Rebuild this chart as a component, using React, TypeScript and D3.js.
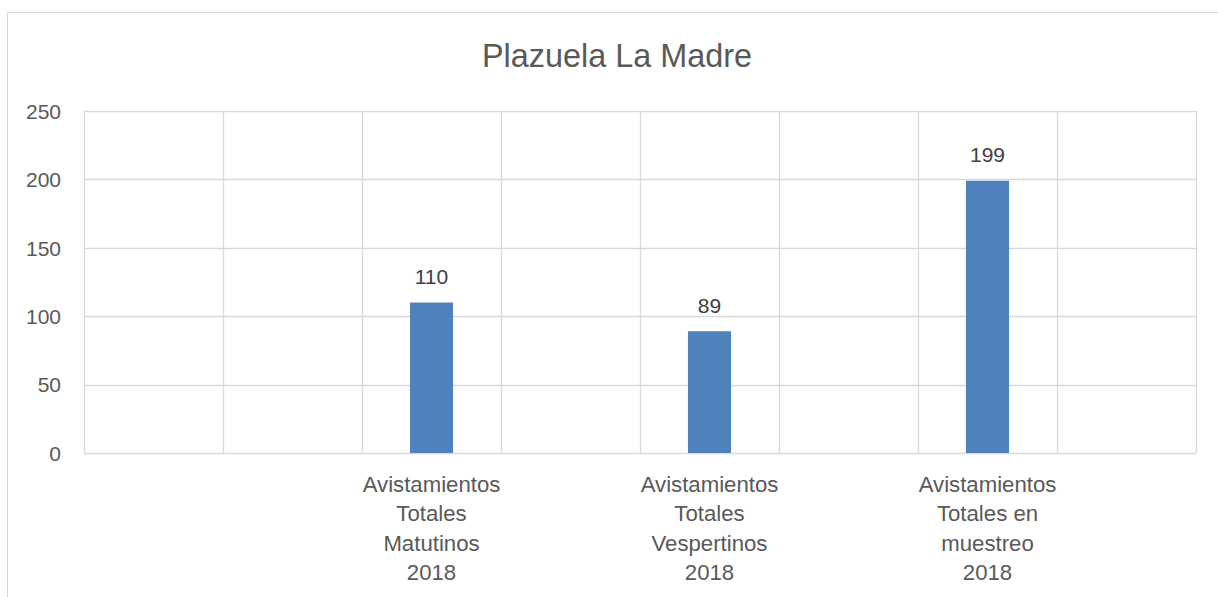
import React from "react";
import * as d3 from "d3";

const title = "Plazuela La Madre";
const categories: string[][] = [
  [],
  [],
  ["Avistamientos", "Totales", "Matutinos", "2018"],
  [],
  ["Avistamientos", "Totales", "Vespertinos", "2018"],
  [],
  ["Avistamientos", "Totales en", "muestreo", "2018"],
  [],
];
const values: (number | null)[] = [null, null, 110, null, 89, null, 199, null];
const yTicks = [0, 50, 100, 150, 200, 250];

const W = 1218;
const H = 597;
const plot = { left: 84, right: 1196, top: 111, bottom: 453 };
const FONT = "'Liberation Sans', Arial, sans-serif";
const GRID = "#D9D9D9";
const TEXT = "#595959";
const BAR = "#4F81BD";

export default function App() {
  const idx = categories.map((_, i) => i);
  const x = d3
    .scaleBand<number>()
    .domain(idx)
    .range([plot.left, plot.right])
    .paddingInner(0)
    .paddingOuter(0);
  const y = d3.scaleLinear().domain([0, 250]).range([plot.bottom, plot.top]);
  const bw = x.bandwidth();
  const barW = bw * 0.31;
  const boundaries = d3.range(categories.length + 1).map((i) => plot.left + i * bw);

  return (
    <svg
      width={W}
      height={H}
      style={{ position: "absolute", left: 0, top: 0, background: "#fff" }}
      fontFamily={FONT}
    >
      <rect x={0} y={0} width={W} height={H} fill="#fff" />
      <rect x={7.5} y={12.5} width={W + 20} height={H + 20} fill="none" stroke={GRID} strokeWidth={1} />
      <text x={617} y={67.3} textAnchor="middle" fontSize={32.4} fill={TEXT}>
        {title}
      </text>
      {yTicks.map((t) => (
        <line key={"h" + t} x1={plot.left} x2={plot.right} y1={Math.round(y(t)) + 0.5} y2={Math.round(y(t)) + 0.5} stroke={GRID} strokeWidth={1.3} />
      ))}
      {boundaries.map((bx, i) => (
        <line key={"v" + i} x1={Math.round(bx) + 0.5} x2={Math.round(bx) + 0.5} y1={plot.top} y2={plot.bottom} stroke={GRID} strokeWidth={1.3} />
      ))}
      {yTicks.map((t) => (
        <text key={"t" + t} x={61} y={y(t) + 7.8} textAnchor="end" fontSize={21} fill={TEXT}>
          {t}
        </text>
      ))}
      {values.map((v, i) =>
        v == null ? null : (
          <g key={"b" + i}>
            <rect x={x(i)! + bw / 2 - barW / 2} y={y(v)} width={barW} height={y(0) - y(v)} fill={BAR} />
            <text x={x(i)! + bw / 2} y={y(v) - 18.3} textAnchor="middle" fontSize={21} fill="#404040">
              {v}
            </text>
          </g>
        )
      )}
      {categories.map((lines, i) => (
        <text key={"c" + i} textAnchor="middle" fontSize={22.2} fill={TEXT}>
          {lines.map((ln, j) => (
            <tspan key={j} x={x(i)! + bw / 2} y={491.7 + j * 29.45}>
              {ln}
            </tspan>
          ))}
        </text>
      ))}
    </svg>
  );
}
